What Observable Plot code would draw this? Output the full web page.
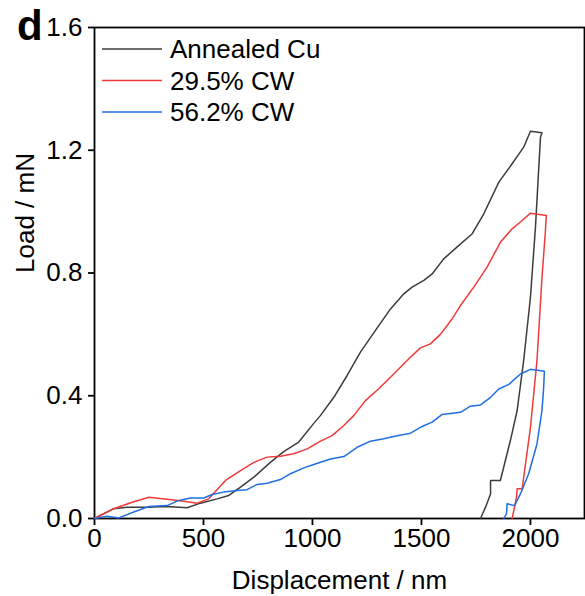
<!DOCTYPE html>
<html><head><meta charset="utf-8">
<script src="https://cdn.jsdelivr.net/npm/d3@7"></script>
<script src="https://cdn.jsdelivr.net/npm/@observablehq/plot@0.6"></script>
<style>body{margin:0;background:#fff;} #chart{position:relative;width:585px;height:596px;}</style>
</head><body><div id="chart"></div>
<script>
const seriesNames = ["Annealed Cu", "29.5% CW", "56.2% CW"];
const seriesColors = ["#3c3c3c", "#f03a3a", "#1f6fe0"];
const xTicks = [0, 500, 1000, 1500, 2000];
const yTicks = [0, 0.4, 0.8, 1.2, 1.6];
const xLabel = "Displacement / nm";
const yLabel = "Load / mN";
const panelLabel = "d";

const annealed = [[0,0],[88,0.032],[150,0.037],[242,0.037],[333,0.039],[425,0.035],[486,0.050],[563,0.064],[616,0.075],[670,0.102],[731,0.135],[807,0.183],[868,0.218],[937,0.249],[1006,0.310],[1037,0.336],[1098,0.395],[1159,0.466],[1220,0.542],[1289,0.613],[1358,0.683],[1419,0.732],[1457,0.754],[1511,0.776],[1549,0.797],[1602,0.846],[1664,0.885],[1733,0.928],[1786,0.993],[1855,1.096],[1916,1.156],[1969,1.210],[2000,1.262],[2053,1.257],[2046,1.242],[2023,0.949],[2000,0.721],[1969,0.515],[1939,0.352],[1908,0.254],[1862,0.124],[1817,0.124],[1817,0.080],[1794,0.037],[1771,0]];
const cw295 = [[0,0],[88,0.032],[173,0.053],[249,0.069],[333,0.063],[410,0.056],[471,0.050],[524,0.064],[601,0.124],[670,0.156],[731,0.183],[792,0.200],[853,0.203],[914,0.211],[976,0.227],[1037,0.252],[1090,0.270],[1144,0.303],[1190,0.336],[1243,0.384],[1304,0.423],[1366,0.466],[1434,0.515],[1495,0.556],[1541,0.569],[1587,0.600],[1641,0.651],[1679,0.694],[1740,0.754],[1801,0.819],[1862,0.900],[1916,0.944],[1962,0.971],[2000,0.995],[2073,0.987],[2068,0.930],[2053,0.786],[2030,0.515],[2000,0.297],[1962,0.097],[1939,0.097],[1936,0.069],[1916,0]];
const cw562 = [[0,0],[58,0.007],[112,0.002],[180,0.021],[249,0.039],[333,0.042],[387,0.059],[440,0.067],[501,0.067],[540,0.078],[593,0.086],[654,0.091],[700,0.094],[746,0.111],[792,0.115],[853,0.127],[899,0.146],[960,0.165],[1006,0.176],[1044,0.185],[1083,0.194],[1144,0.202],[1205,0.232],[1266,0.252],[1327,0.260],[1389,0.270],[1450,0.278],[1503,0.300],[1549,0.314],[1595,0.339],[1679,0.346],[1725,0.366],[1771,0.370],[1817,0.395],[1855,0.422],[1901,0.437],[1954,0.471],[2000,0.486],[2064,0.480],[2060,0.420],[2053,0.352],[2030,0.243],[1992,0.146],[1954,0.080],[1927,0.042],[1893,0.048],[1890,0.015],[1878,0]];

const seriesData = [annealed, cw295, cw562];
const data = seriesData.flatMap((arr, i) => arr.map(([x, y]) => ({series: seriesNames[i], x, y})));

const font = "'Liberation Sans', Arial, sans-serif";
const fs = 26;
const plot = Plot.plot({
  width: 585, height: 596,
  marginLeft: 94, marginRight: 1, marginTop: 27, marginBottom: 78,
  style: {fontFamily: font, fontSize: fs + "px", color: "#000", background: "white"},
  x: {domain: [0, 2248], label: null},
  y: {domain: [0, 1.6], label: null},
  color: {domain: seriesNames, range: seriesColors},
  marks: [
    Plot.frame({stroke: "#000", strokeWidth: 1.8}),
    Plot.axisX({ticks: xTicks, tickSize: 7, tickPadding: 3, strokeWidth: 1.8, fontSize: fs, tickFormat: d3.format("d"), label: null}),
    Plot.axisY({ticks: yTicks, tickSize: 6, tickPadding: 6, strokeWidth: 1.8, fontSize: fs, tickFormat: d3.format(".1f"), label: null}),
    Plot.line(data, {x: "x", y: "y", z: "series", stroke: "series", strokeWidth: 1.5, curve: "linear"}),
    Plot.text([xLabel], {frameAnchor: "bottom", dy: 62, fontSize: fs, lineAnchor: "middle"}),
    Plot.text([yLabel], {frameAnchor: "left", dx: -69, rotate: -90, fontSize: fs, lineAnchor: "middle"})
  ]
});
document.getElementById("chart").appendChild(plot);

const svg = d3.select(plot);
svg.append("text").attr("x", 17).attr("y", 40).attr("text-anchor", "start").attr("font-family", font)
  .attr("font-size", 42).attr("font-weight", "bold").attr("fill", "#000").text(panelLabel);
const lg = svg.append("g");
seriesNames.forEach((name, i) => {
  const yy = 49 + i * 31.5;
  lg.append("line").attr("x1", 102).attr("x2", 162).attr("y1", yy).attr("y2", yy)
    .attr("stroke", seriesColors[i]).attr("stroke-width", 1.5);
  lg.append("text").attr("x", 170).attr("y", yy).attr("dy", "0.35em").attr("text-anchor", "start")
    .attr("font-family", font).attr("font-size", fs).attr("fill", "#000").text(name);
});
</script>
</body></html>
